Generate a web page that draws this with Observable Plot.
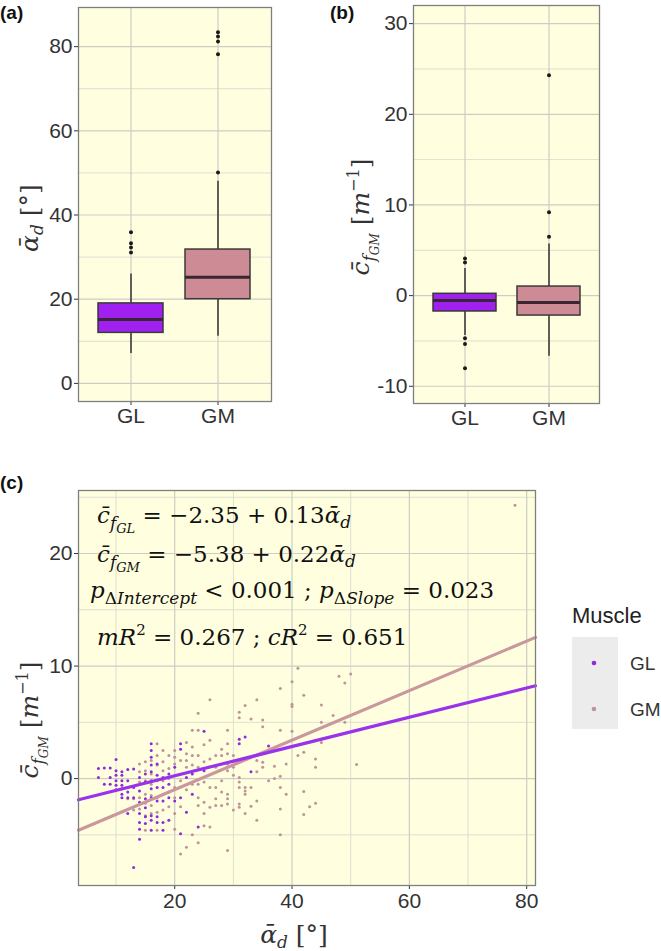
<!DOCTYPE html>
<html>
<head>
<meta charset="utf-8">
<script src="https://cdn.jsdelivr.net/npm/d3@7"></script>
<script src="https://cdn.jsdelivr.net/npm/@observablehq/plot@0.6"></script>
<style>
  body { margin: 0; background: #fff; }
  #fig { position: relative; width: 661px; height: 951px; }
  #fig > svg { position: absolute; }
</style>
</head>
<body>
<div id="fig"></div>
<script>
const muscles = ["GL", "GM"];
const boxFill = ["#a020f0", "#cd8c95"];
const pointFill = ["#8c2bdc", "#bc9499"];
const lineStroke = ["#9a32ec", "#c9979c"];

// (a) mean pennation angle, per muscle: whisker ends, quartiles, median
const alphaLow = [7.1, 11.2];
const alphaQ1 = [12, 20];
const alphaMed = [15.2, 25.2];
const alphaQ3 = [19, 31.8];
const alphaHigh = [26, 48];
const alphaOutGL = [31.1, 32.3, 33.3, 35.9];
const alphaOutGM = [50.1, 78.2, 81.2, 82.4, 83.4];

// (b) mean fascicle curvature
const curvLow = [-4.4, -6.7];
const curvQ1 = [-1.75, -2.2];
const curvMed = [-0.55, -0.75];
const curvQ3 = [0.2, 1.0];
const curvHigh = [3.0, 5.7];
const curvOutGL = [3.65, 4.1, -4.7, -5.35, -8.0];
const curvOutGM = [6.5, 9.2, 24.3];

// (c) scatter, [angle, curvature]
const glPoints = [
  [7,0.9],[7,0.1],[8,0.95],[8,-0.5],[9,0.95],[9,0.1],[9,-0.5],
  [10,1.7],[10,0.7],[10,0.3],[10,-0.2],[10,-0.6],[10,-1.0],
  [11,0.6],[11,0.3],[11,-0.2],[11,-0.6],[11,-0.9],[11,-1.4],[11,-1.7],
  [12,0.8],[12,-0.2],[12,-0.8],[12,-1.2],[12,-1.7],[12,-3.1],
  [13,0.85],[13,-0.8],[13,-1.7],[13,-7.9],
  [14,0.1],[14,-1.1],[14,-2.1],[14,-3.1],[14,-3.9],[14,-4.5],[14,-5.4],
  [15,0.4],[15,-0.3],[15,-1.8],[15,-2.6],[15,-3.4],[15,-4.0],
  [16,3.1],[16,2.5],[16,1.9],[16,1.2],[16,0.6],[16,-0.2],[16,-0.9],[16,-1.7],[16,-3.3],[16,-3.7],[16,-4.6],
  [17,1.3],[17,0.3],[17,-0.8],[17,-2.0],[17,-3.4],[17,-3.9],
  [18,0.1],[18,-0.8],[18,-2.0],[18,-3.9],[18,-4.6],
  [19,0.4],[19,-0.5],[19,-1.7],[19,-3.7],
  [20,1.0],[20,-2.0],[21,3.1],[21,2.6],[21,-1.7],[21,-4.9],
  [22,0.1],[22,-3.0],[23,0.4],[23,-1.4],[24,-4.3],[25,4.2],[25,0.7],
  [31,3.5],[31,3.1],[32,3.7],[33,0.6],[36,2.9]
];
const gmPoints = [
  [12,-1.8],[13,-1.8],[13,-2.8],
  [14,1.3],[14,0.6],[14,-0.3],[14,-1.7],[14,-2.7],
  [15,1.5],[15,0.7],[15,-0.2],[15,-1.4],[15,-2.2],[15,-3.3],[15,-4.6],
  [16,1.6],[16,0.4],[16,-0.5],[16,-1.5],[16,-2.4],[16,-3.1],
  [17,3.1],[17,2.05],[17,1.2],[17,-0.2],[17,-1.7],[17,-3.0],[17,-4.6],
  [18,2.5],[18,1.5],[18,0.7],[18,-0.2],[18,-1.4],[18,-2.8],
  [19,2.05],[19,0.9],[19,0.0],[19,-1.2],[19,-2.5],
  [20,2.5],[20,1.9],[20,1.3],[20,-0.8],[20,-1.7],[20,-3.1],[20,-4.5],
  [21,1.6],[21,-0.2],[21,-2.5],[21,-6.7],
  [22,3.2],[22,2.2],[22,1.6],[22,1.0],[22,-1.0],[22,-6.1],
  [23,4.3],[23,2.8],[23,2.05],[23,1.2],[23,-0.5],[23,-5.0],
  [24,5.8],[24,4.3],[24,2.05],[24,1.0],[24,-0.5],[24,-1.7],[24,-2.4],[24,-5.7],
  [25,3.0],[25,1.5],[25,-0.3],[25,-2.1],[25,-3.1],[25,-4.2],
  [26,7.0],[26,3.4],[26,1.75],[26,-0.8],[26,-2.55],[26,-4.3],
  [27,2.05],[27,1.0],[27,-0.8],[27,-1.8],[27,-2.4],
  [28,2.6],[28,2.05],[28,-0.2],[28,-1.2],[28,-2.4],
  [29,4.3],[29,3.1],[29,2.2],[29,1.3],[29,0.7],[29,-1.4],[29,-1.8],[29,-2.25],[29,-6.4],
  [30,2.05],[30,1.0],[30,0.3],[30,-2.8],
  [31,5.9],[31,5.4],[31,0.1],[31,-0.3],[31,-0.8],[31,-2.25],[31,-2.55],
  [32,6.5],[32,-0.8],[32,-1.1],[32,-1.4],[32,-3.1],
  [33,5.3],[33,-0.8],[33,-2.45],
  [34,7.0],[34,1.6],[34,0.6],[34,-2.0],[34,-3.7],
  [35,5.2],[35,4.6],[35,1.45],[35,1.0],[36,-0.2],[37,1.1],[37,0.0],
  [38,8.0],[38,4.3],[38,0.2],[38,-0.8],[38,-2.7],[38,-5.0],
  [39,1.3],[39,-1.4],[40,8.6],[40,6.6],[40,6.4],[40,4.2],[41,9.8],[41,2.05],
  [42,7.4],[42,2.35],[42,-1.15],[42,-3.2],[43,-2.5],[44,1.75],[44,1.0],[44,-2.2],
  [45,6.55],[45,5.0],[45,3.2],[47,5.6],[48,9.1],[49,8.5],[49,5.0],[50,9.3],[51,1.25],
  [78,24.3]
];

// mixed model fits shown in (c)
const fitIntercept = [-2.35, -5.38];
const fitSlope = [0.13, 0.22];

const bg = "#ffffe0";
const gridMajor = "#cdcdc4";
const gridMinor = "#dadacf";
const axisStyle = {
  fontSize: "21px",
  fontFamily: "'Liberation Sans', Arial, sans-serif",
  color: "#333",
  background: "transparent",
  overflow: "visible"
};

const fig = d3.select("#fig");

function boxPanel({low, q1, med, q3, high, outGL, outGM, yDomain, yTicks, yMinor, left, width, margins}) {
  const stats = muscles.map((m, i) => ({muscle: m, low: low[i], q1: q1[i], med: med[i], q3: q3[i], high: high[i]}));
  const outliers = [
    ...outGL.map(v => ({muscle: "GL", v})),
    ...outGM.map(v => ({muscle: "GM", v}))
  ];
  const svg = Plot.plot({
    width, height: 440, ...margins,
    style: axisStyle,
    x: {domain: muscles, paddingInner: 0.25, paddingOuter: 0.225, label: null, tickSize: 4, tickPadding: 3},
    y: {domain: yDomain, ticks: yTicks, tickFormat: d => String(d), label: null, tickSize: 4, tickPadding: 2},
    color: {domain: muscles, range: boxFill},
    marks: [
      Plot.frame({fill: bg}),
      Plot.ruleY(yMinor, {stroke: gridMinor, strokeWidth: 0.9}),
      Plot.ruleY(yTicks, {stroke: gridMajor, strokeWidth: 1.2}),
      Plot.ruleX(muscles, {stroke: gridMajor, strokeWidth: 1.2}),
      Plot.ruleX(stats, {x: "muscle", y1: "low", y2: "high", stroke: "#333", strokeWidth: 1.5}),
      Plot.barY(stats, {x: "muscle", y1: "q1", y2: "q3", fill: "muscle", stroke: "#3a3a3a", strokeWidth: 1.5}),
      Plot.tickY(stats, {x: "muscle", y: "med", stroke: "#3a2633", strokeWidth: 3}),
      Plot.dot(outliers, {x: "muscle", y: "v", r: 2, fill: "#1a1a1a", stroke: "none"}),
      Plot.frame({stroke: "#7f7f7f", strokeWidth: 1.3})
    ]
  });
  svg.style.left = left + "px";
  svg.style.top = "0px";
  fig.node().appendChild(svg);
}

boxPanel({
  low: alphaLow, q1: alphaQ1, med: alphaMed, q3: alphaQ3, high: alphaHigh,
  outGL: alphaOutGL, outGM: alphaOutGM,
  yDomain: [-4.3, 89.3], yTicks: [0, 20, 40, 60, 80], yMinor: [10, 30, 50, 70],
  left: 0, width: 330,
  margins: {marginLeft: 78, marginRight: 59, marginTop: 7, marginBottom: 39}
});

boxPanel({
  low: curvLow, q1: curvQ1, med: curvMed, q3: curvQ3, high: curvHigh,
  outGL: curvOutGL, outGM: curvOutGM,
  yDomain: [-11.9, 32.0], yTicks: [-10, 0, 10, 20, 30], yMinor: [-5, 5, 15, 25],
  left: 330, width: 331,
  margins: {marginLeft: 83, marginRight: 62, marginTop: 5, marginBottom: 37}
});

// (c) scatter with fitted lines
const xDomainC = [3.6, 81.5];
const fitLines = muscles.flatMap((m, i) =>
  xDomainC.map(x => ({muscle: m, x, y: fitIntercept[i] + fitSlope[i] * x}))
);
const scatter = Plot.plot({
  width: 661, height: 491,
  marginLeft: 78, marginRight: 126, marginTop: 30, marginBottom: 66,
  style: axisStyle,
  x: {domain: xDomainC, ticks: [20, 40, 60, 80], label: null, tickSize: 4, tickPadding: 4},
  y: {domain: [-9.5, 25.6], ticks: [0, 10, 20], tickFormat: d => String(d), label: null, tickSize: 4, tickPadding: 2},
  marks: [
    Plot.frame({fill: bg}),
    Plot.ruleX([10, 30, 50, 70], {stroke: gridMinor, strokeWidth: 0.9}),
    Plot.ruleY([-5, 5, 15, 25], {stroke: gridMinor, strokeWidth: 0.9}),
    Plot.ruleX([20, 40, 60, 80], {stroke: gridMajor, strokeWidth: 1.2}),
    Plot.ruleY([0, 10, 20], {stroke: gridMajor, strokeWidth: 1.2}),
    Plot.dot(gmPoints, {x: d => d[0], y: d => d[1], r: 1.5, fill: pointFill[1], stroke: "none"}),
    Plot.dot(glPoints, {x: d => d[0], y: d => d[1], r: 1.5, fill: pointFill[0], stroke: "none"}),
    Plot.line(fitLines.filter(d => d.muscle === "GM"), {x: "x", y: "y", stroke: lineStroke[1], strokeWidth: 3.2}),
    Plot.line(fitLines.filter(d => d.muscle === "GL"), {x: "x", y: "y", stroke: lineStroke[0], strokeWidth: 3.2}),
    Plot.frame({stroke: "#7f7f7f", strokeWidth: 1.3})
  ]
});
scatter.style.left = "0px";
scatter.style.top = "460px";
fig.node().appendChild(scatter);

// overlay: panel letters, math labels, annotation, legend
const over = fig.append("svg")
  .attr("width", 661).attr("height", 951)
  .style("left", "0px").style("top", "0px")
  .style("pointer-events", "none");

const serif = "'DejaVu Serif', 'Liberation Serif', serif";
const sans = "'Liberation Sans', Arial, sans-serif";

function rich(text, pieces) {
  for (const p of pieces) {
    const t = text.append("tspan").text(p.t);
    if (p.i) t.attr("font-style", "italic");
    if (p.s) t.attr("font-size", p.s);
    if (p.dy) t.attr("dy", p.dy);
  }
  return text;
}

for (const [label, x, y] of [["(a)", 0, 19], ["(b)", 330, 19], ["(c)", 0, 489]]) {
  over.append("text").attr("x", x).attr("y", y)
    .attr("font-family", sans).attr("font-weight", "bold").attr("font-size", 19)
    .attr("fill", "#111").text(label);
}

const alphaLabel = [
  {t: "ᾱ", i: true}, {t: "d", i: true, s: 17, dy: 5}, {t: " [°]", s: 25, dy: -5}
];
const curvLabel = [
  {t: "c̄", i: true}, {t: "f", i: true, s: 17, dy: 6}, {t: "GM", i: true, s: 12, dy: 4},
  {t: " [", s: 25, dy: -10}, {t: "m", i: true}, {t: "−1", s: 16, dy: -10}, {t: "]", s: 25, dy: 10}
];

function axisTitle(pieces, x, y, rotate) {
  const g = over.append("g").attr("transform", `translate(${x},${y})` + (rotate ? " rotate(-90)" : ""));
  const t = g.append("text").attr("text-anchor", "middle")
    .attr("font-family", serif).attr("font-size", 25).attr("fill", "#333");
  rich(t, pieces);
}
axisTitle(alphaLabel, 38, 218, true);
axisTitle(curvLabel, 369, 217, true);
axisTitle(curvLabel, 38, 720, true);
axisTitle(alphaLabel, 294, 943, false);

// model annotation inside (c)
const annot = [
  [97, 523, [
    {t: "c̄", i: true}, {t: "f", i: true, s: 17, dy: 6}, {t: "GL", i: true, s: 13, dy: 4},
    {t: " = −2.35 + 0.13", s: 23, dy: -10}, {t: "ᾱ", i: true}, {t: "d", i: true, s: 17, dy: 5}
  ]],
  [97, 562, [
    {t: "c̄", i: true}, {t: "f", i: true, s: 17, dy: 6}, {t: "GM", i: true, s: 13, dy: 4},
    {t: " = −5.38 + 0.22", s: 23, dy: -10}, {t: "ᾱ", i: true}, {t: "d", i: true, s: 17, dy: 5}
  ]],
  [90, 598, [
    {t: "p", i: true}, {t: "Δ", s: 17, dy: 6}, {t: "Intercept", i: true, s: 17},
    {t: " < 0.001 ; ", s: 23, dy: -6}, {t: "p", i: true}, {t: "Δ", s: 17, dy: 6},
    {t: "Slope", i: true, s: 17}, {t: " = 0.023", s: 23, dy: -6}
  ]],
  [97, 645, [
    {t: "mR", i: true}, {t: "2", s: 15, dy: -10}, {t: " = 0.267 ; ", s: 23, dy: 10},
    {t: "cR", i: true}, {t: "2", s: 15, dy: -10}, {t: " = 0.651", s: 23, dy: 10}
  ]]
];
for (const [x, y, pieces] of annot) {
  const t = over.append("text").attr("x", x).attr("y", y)
    .attr("font-family", serif).attr("font-size", 23).attr("fill", "#111");
  rich(t, pieces);
}

// legend
over.append("text").attr("x", 572).attr("y", 623)
  .attr("font-family", sans).attr("font-size", 22).attr("fill", "#222").text("Muscle");
over.append("rect").attr("x", 572).attr("y", 637).attr("width", 46).attr("height", 92)
  .attr("fill", "#ececec");
muscles.forEach((m, i) => {
  const cy = 663 + i * 46;
  over.append("circle").attr("cx", 594).attr("cy", cy).attr("r", 2.3).attr("fill", pointFill[i]);
  over.append("text").attr("x", 630).attr("y", cy + 7)
    .attr("font-family", sans).attr("font-size", 19).attr("fill", "#333").text(m);
});
</script>
</body>
</html>
